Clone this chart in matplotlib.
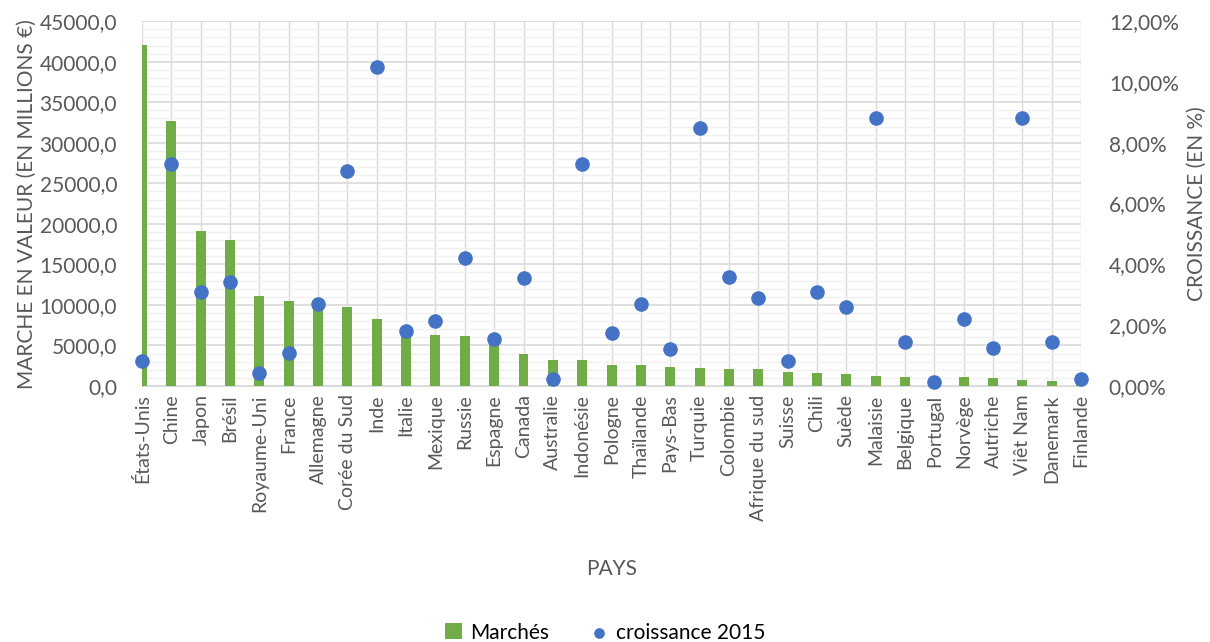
import numpy as np
import matplotlib
matplotlib.use("Agg")
import matplotlib.pyplot as plt
from matplotlib.ticker import FuncFormatter, MultipleLocator

pays = ['États-Unis', 'Chine', 'Japon', 'Brésil', 'Royaume-Uni', 'France', 'Allemagne',
        'Corée du Sud', 'Inde', 'Italie', 'Mexique', 'Russie', 'Espagne', 'Canada',
        'Australie', 'Indonésie', 'Pologne', 'Thaïlande', 'Pays-Bas', 'Turquie',
        'Colombie', 'Afrique du sud', 'Suisse', 'Chili', 'Suède', 'Malaisie', 'Belgique',
        'Portugal', 'Norvège', 'Autriche', 'Viêt Nam', 'Danemark', 'Finlande']
marches = [42050, 32700, 19100, 18000, 11100, 10500, 10150, 9750, 8250, 6900, 6300,
           6150, 5600, 3950, 3200, 3200, 2600, 2600, 2350, 2200, 2100, 2100, 1700,
           1600, 1500, 1250, 1100, 1100, 1100, 1000, 750, 600, 500]
croissance = [0.83, 7.29, 3.10, 3.41, 0.42, 1.10, 2.70, 7.08, 10.48, 1.81, 2.15, 4.20,
              1.53, 3.54, 0.22, 7.29, 1.73, 2.70, 1.22, 8.50, 3.58, 2.90, 0.82, 3.10,
              2.61, 8.80, 1.44, 0.13, 2.19, 1.24, 8.80, 1.44, 0.23]

plt.rcParams['font.family'] = ['Lato', 'DejaVu Sans']
txt = '#595959'
green = '#70ad47'
blue = '#4472c4'

fig = plt.figure(figsize=(12.1, 6.42), dpi=100)
ax = fig.add_axes([0.1174, 0.3988, 0.7760, 0.5682])
x = np.arange(len(pays))

ax.bar(x, marches, width=0.34, color=green, zorder=3, label='Marchés')
ax.set_xlim(0, len(pays) - 1)
ax.set_ylim(0, 45000)
ax.yaxis.set_major_locator(MultipleLocator(5000))
ax.yaxis.set_minor_locator(MultipleLocator(1000))
ax.yaxis.set_major_formatter(FuncFormatter(lambda v, p: f'{v:.1f}'.replace('.', ',')))
ax.grid(True, which='major', axis='y', color='#d9d9d9', lw=1.2, zorder=0)
ax.grid(True, which='minor', axis='y', color='#f0f0f0', lw=1.0, zorder=0)
ax.grid(True, which='major', axis='x', color='#d9d9d9', lw=1.0, zorder=0)
ax.set_xticks(x)
ax.set_xticklabels(pays, rotation=90, fontsize=14, color=txt)
ax.tick_params(axis='y', labelsize=15, labelcolor=txt, length=0, which='both', pad=18)
ax.tick_params(axis='x', length=0, pad=6)
for s in ax.spines.values():
    s.set_visible(False)
ax.spines['bottom'].set_visible(True)
ax.spines['bottom'].set_color('#d9d9d9')
ax.set_ylabel('MARCHE EN VALEUR (EN MILLIONS €)', fontsize=15, color=txt, labelpad=2)
ax.set_xlabel('PAYS', fontsize=15, color=txt, labelpad=28)

ax2 = ax.twinx()
ax2.scatter(x, croissance, s=90, color=blue, zorder=4, clip_on=False, label='croissance 2015')
ax2.set_ylim(0, 12)
ax2.yaxis.set_major_locator(MultipleLocator(2))
ax2.yaxis.set_major_formatter(FuncFormatter(lambda v, p: f'{v:.2f}'.replace('.', ',') + '%'))
ax2.tick_params(axis='y', labelsize=15, labelcolor=txt, length=0, pad=20)
for s in ax2.spines.values():
    s.set_visible(False)
ax2.set_ylabel('CROISSANCE (EN %)', fontsize=15, color=txt, labelpad=6)

h1, l1 = ax.get_legend_handles_labels()
h2, l2 = ax2.get_legend_handles_labels()
fig.legend(h1 + h2, l1 + l2, loc='lower center', bbox_to_anchor=(0.5, -0.03), ncol=2,
           frameon=False, fontsize=15, handlelength=0.8, handleheight=0.8,
           columnspacing=2.0, markerscale=0.7, handletextpad=0.4)

fig.savefig('out.png', dpi=100)
